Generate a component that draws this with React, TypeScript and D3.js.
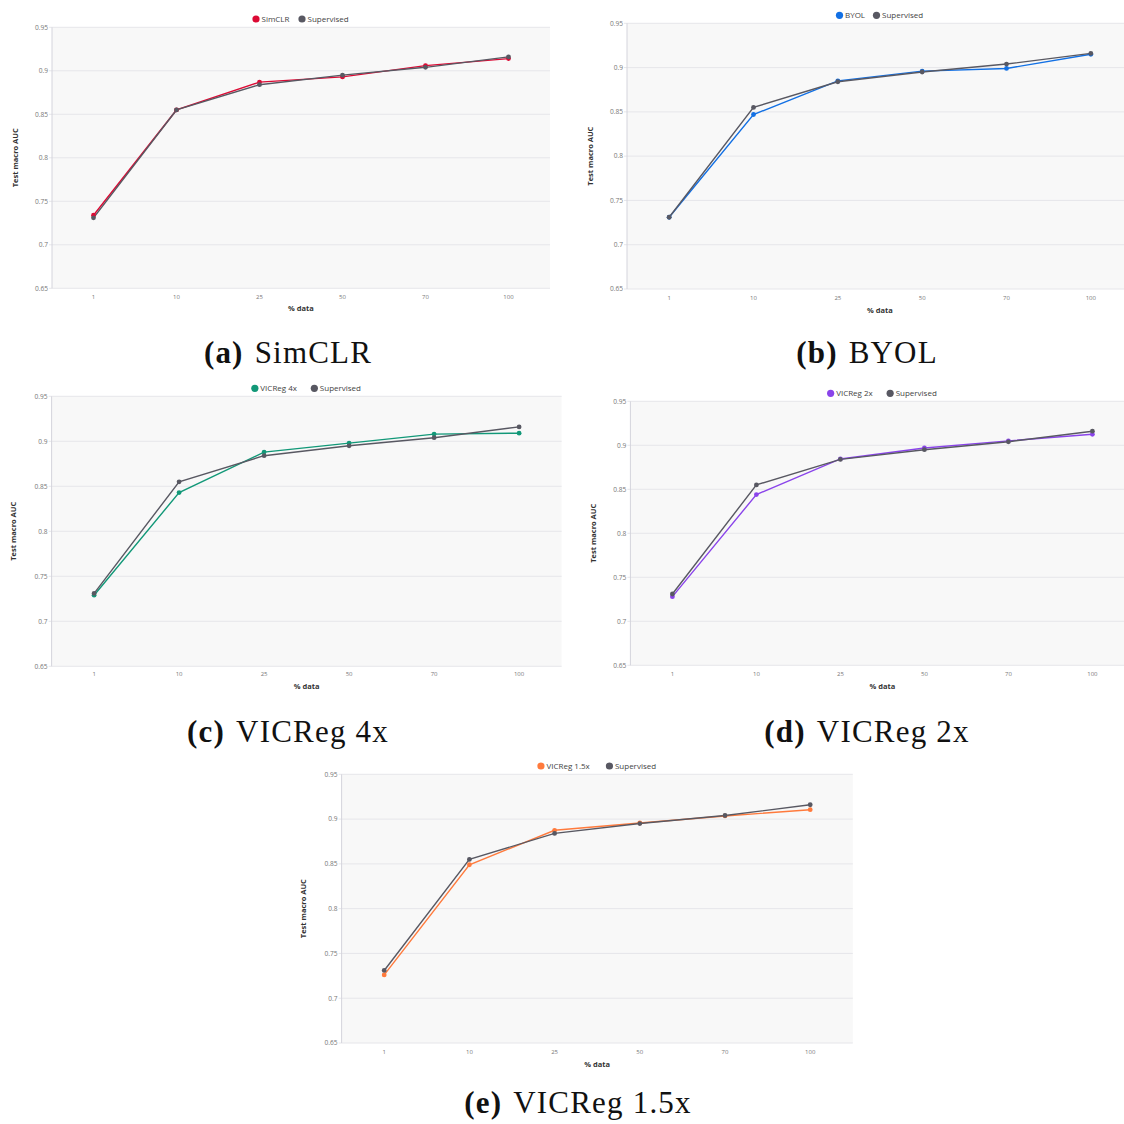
import React from "react";
import * as d3 from "d3";

const pctLabels = ["1", "10", "25", "50", "70", "100"];
const yTicks = [0.65, 0.7, 0.75, 0.8, 0.85, 0.9, 0.95];
const supervised = [0.731, 0.855, 0.884, 0.895, 0.904, 0.916];
const simclr = [0.734, 0.855, 0.887, 0.893, 0.906, 0.914];
const byol = [0.731, 0.847, 0.885, 0.896, 0.899, 0.915];
const vicreg4x = [0.729, 0.843, 0.888, 0.898, 0.908, 0.909];
const vicreg2x = [0.728, 0.844, 0.8845, 0.897, 0.905, 0.9125];
const vicreg15x = [0.726, 0.849, 0.8875, 0.8956, 0.9035, 0.9105];

const SUP_COLOR = "#585862";
const FONT = "'Open Sans', 'Noto Sans', sans-serif";

type PanelProps = {
  name: string;
  values: number[];
  color: string;
  left: number;
  right: number;
  top: number;
  bottom: number;
  legendY: number;
  tickY: number;
  xTitleY: number;
  yTitleX: number;
  letter: string;
  captionX: number;
  captionY: number;
};

function Panel(p: PanelProps) {
  const x = d3.scaleBand<string>().domain(pctLabels).range([p.left, p.right]);
  const y = d3.scaleLinear().domain([0.65, 0.95]).range([p.bottom, p.top]);
  const cx = (i: number) => (x(pctLabels[i]) as number) + x.bandwidth() / 2;
  const line = d3
    .line<number>()
    .x((_, i) => cx(i))
    .y((d) => y(d));
  const midX = (p.left + p.right) / 2;
  const nameW = p.name.length * 4.5;
  const supW = 42;
  const gap = 10;
  const legendW = 9 + nameW + gap + 9 + supW;
  const lx0 = midX - legendW / 2;
  const lx1 = lx0 + 9 + nameW + gap;
  return (
    <g>
      <rect x={p.left} y={p.top} width={p.right - p.left} height={p.bottom - p.top} fill="#f8f8f8" />
      {yTicks.map((t) => (
        <g key={t}>
          <line x1={p.left - 3} x2={p.right} y1={y(t)} y2={y(t)} stroke="#e6e6ea" strokeWidth={1} />
          <text x={p.left - 4} y={y(t)} dy="0.35em" textAnchor="end" fontSize={6.6} fill="#777" fontFamily={FONT}>
            {String(t)}
          </text>
        </g>
      ))}
      <line x1={p.left} x2={p.left} y1={p.top} y2={p.bottom} stroke="#d4d4dc" strokeWidth={1} />
      {pctLabels.map((l, i) => (
        <text key={l} x={cx(i)} y={p.tickY} dy="0.35em" textAnchor="middle" fontSize={6} fill="#777" fontFamily={FONT}>
          {l}
        </text>
      ))}
      <text x={midX} y={p.xTitleY} dy="0.35em" textAnchor="middle" fontSize={7.5} fontWeight="bold" fill="#333" fontFamily={FONT}>
        % data
      </text>
      <text
        transform={`translate(${p.yTitleX},${(p.top + p.bottom) / 2}) rotate(-90)`}
        dy="0.35em"
        textAnchor="middle"
        fontSize={7.5}
        fontWeight="bold"
        fill="#333"
        fontFamily={FONT}
      >
        Test macro AUC
      </text>
      {/* legend */}
      <circle cx={lx0 + 3.5} cy={p.legendY} r={3.6} fill={p.color} />
      <text x={lx0 + 9} y={p.legendY} dy="0.35em" fontSize={8} fill="#444" fontFamily={FONT}>
        {p.name}
      </text>
      <circle cx={lx1 + 3.5} cy={p.legendY} r={3.6} fill={SUP_COLOR} />
      <text x={lx1 + 9} y={p.legendY} dy="0.35em" fontSize={8} fill="#444" fontFamily={FONT}>
        Supervised
      </text>
      {/* series */}
      <path d={line(p.values) || ""} fill="none" stroke={p.color} strokeWidth={1.4} />
      <path d={line(supervised) || ""} fill="none" stroke={SUP_COLOR} strokeWidth={1.4} />
      {p.values.map((v, i) => (
        <circle key={"m" + i} cx={cx(i)} cy={y(v)} r={2.4} fill={p.color} />
      ))}
      {supervised.map((v, i) => (
        <circle key={"s" + i} cx={cx(i)} cy={y(v)} r={2.4} fill={SUP_COLOR} />
      ))}
      {/* caption */}
      <text x={p.captionX} y={p.captionY} textAnchor="middle" fontSize={31} letterSpacing={1.2} fill="#111" fontFamily="'Liberation Serif', serif">
        <tspan fontWeight="bold">({p.letter})</tspan>
        <tspan dx={11}>{p.name}</tspan>
      </text>
    </g>
  );
}

export default function App() {
  return (
    <svg width={1124} height={1124} style={{ position: "absolute", left: 0, top: 0, background: "#fff" }}>
      <rect width={1124} height={1124} fill="#fff" />
      <Panel name="SimCLR" values={simclr} color="#dc0a34" left={52} right={550} top={27.3} bottom={288.3}
        legendY={19} tickY={297} xTitleY={308} yTitleX={15} letter="a" captionX={288} captionY={363} />
      <Panel name="BYOL" values={byol} color="#1270e4" left={627} right={1133} top={23.3} bottom={289}
        legendY={15.3} tickY={298} xTitleY={310} yTitleX={590} letter="b" captionX={867} captionY={363} />
      <Panel name="VICReg 4x" values={vicreg4x} color="#129878" left={51.6} right={561.6} top={396.3} bottom={666.3}
        legendY={388.3} tickY={674} xTitleY={686} yTitleX={13.4} letter="c" captionX={288} captionY={742} />
      <Panel name="VICReg 2x" values={vicreg2x} color="#8a44ea" left={630.4} right={1134.4} top={401.3} bottom={665.3}
        legendY={393.3} tickY={674.3} xTitleY={686} yTitleX={593.6} letter="d" captionX={867} captionY={742} />
      <Panel name="VICReg 1.5x" values={vicreg15x} color="#ff7a3c" left={341.6} right={852.8} top={774.3} bottom={1043}
        legendY={766} tickY={1051.7} xTitleY={1064} yTitleX={303.4} letter="e" captionX={578} captionY={1113} />
    </svg>
  );
}
